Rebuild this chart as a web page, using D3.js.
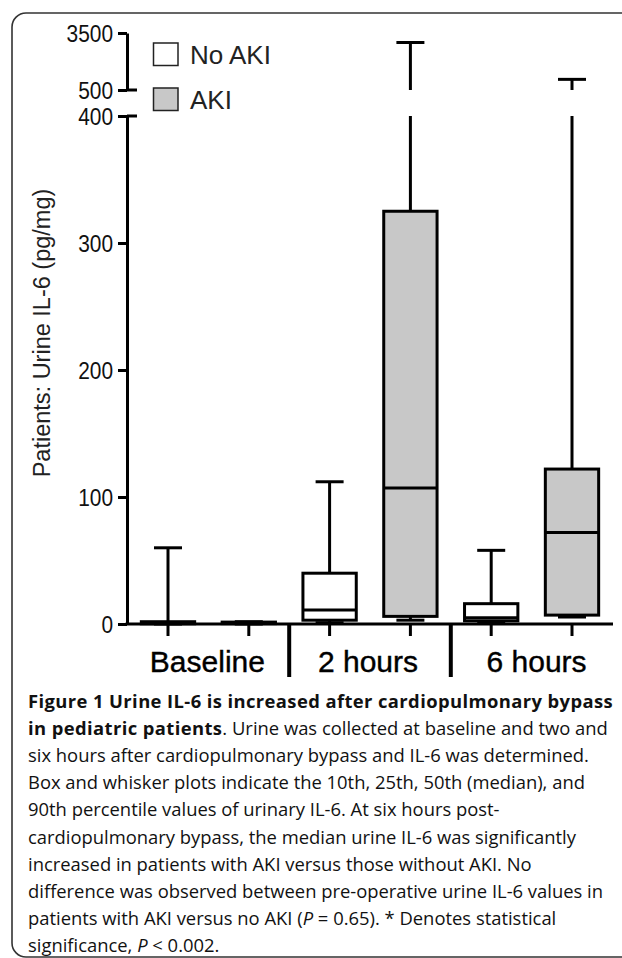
<!DOCTYPE html>
<html><head><meta charset="utf-8">
<script src="https://cdn.jsdelivr.net/npm/d3@7"></script>
<style>body{margin:0;background:#fff}svg{display:block}</style>
</head><body>
<svg id="c" width="622" height="958"></svg>
<script>
// ---- data ----
const groups = ["Baseline", "2 hours", "6 hours"];
const series = ["No AKI", "AKI"];
// [10th, 25th, median, 75th, 90th percentile] per group
const noAKI = [[0, 0.2, 0.8, 1.8, 60], [1, 3, 11, 40, 112], [1, 2.5, 5, 16, 58]];
const aki   = [[0, 0.3, 0.7, 1.5, 1.8], [3, 6, 107, 325, 3000], [5.5, 7, 72, 122, 1060]];
const lowerTicks = [0, 100, 200, 300, 400];
const upperTicks = [500, 3500];
const captionLines = [
  [{t:"Figure 1 Urine IL-6 is increased after cardiopulmonary bypass", b:1}],
  [{t:"in pediatric patients", b:1}, {t:". Urine was collected at baseline and two and"}],
  [{t:"six hours after cardiopulmonary bypass and IL-6 was determined."}],
  [{t:"Box and whisker plots indicate the 10th, 25th, 50th (median), and"}],
  [{t:"90th percentile values of urinary IL-6. At six hours post-"}],
  [{t:"cardiopulmonary bypass, the median urine IL-6 was significantly"}],
  [{t:"increased in patients with AKI versus those without AKI. No"}],
  [{t:"difference was observed between pre-operative urine IL-6 values in"}],
  [{t:"patients with AKI versus no AKI ("}, {t:"P", i:1}, {t:" = 0.65). * Denotes statistical"}],
  [{t:"significance, "}, {t:"P", i:1}, {t:" < 0.002."}]
];

const data = [];
groups.forEach((g, gi) => {
  series.forEach(s => {
    const v = (s === "No AKI" ? noAKI : aki)[gi];
    data.push({g, s, p10:v[0], q1:v[1], med:v[2], q3:v[3], p90:v[4]});
  });
});

const svg = d3.select("#c");
const FONT = "'Liberation Sans', Arial, sans-serif";

// frame
svg.append("rect").attr("x", 12).attr("y", 13).attr("width", 660).attr("height", 944)
  .attr("rx", 14).attr("fill", "none").attr("stroke", "#333").attr("stroke-width", 1.6);

// scales
const yLow = d3.scaleLinear().domain([0, 400]).range([624, 116]);
const yUp = d3.scaleLinear().domain([500, 3500]).range([90, 33]);
const xG = d3.scaleBand().domain(groups).range([127.6, 612.4]);
const xS = d3.scaleBand().domain(series).range([0, xG.bandwidth()]);
const cx = d => xG(d.g) + xS(d.s) + xS.bandwidth() / 2;
const boxW = xS.bandwidth() * 0.66;
const capW = 28;

const axisX = 127;

// y axis lower
const gLow = svg.append("g").attr("transform", `translate(${axisX},0)`)
  .call(d3.axisLeft(yLow).tickValues(lowerTicks).tickSize(9).tickSizeOuter(0).tickPadding(5));
// y axis upper
const gUp = svg.append("g").attr("transform", `translate(${axisX},0)`)
  .call(d3.axisLeft(yUp).tickValues(upperTicks).tickFormat(d3.format("d")).tickSize(9).tickSizeOuter(0).tickPadding(5));
[gLow, gUp].forEach(g => {
  g.select(".domain").attr("stroke", "#000").attr("stroke-width", 3);
  g.selectAll(".tick line").attr("stroke", "#000").attr("stroke-width", 3);
  g.selectAll(".tick text").attr("fill", "#111").attr("font-family", FONT).attr("font-size", 24)
    .attr("x", 0).attr("dy", "0.36em").attr("transform", "translate(-14,0) scale(0.87,1)");
});
// break marks extend to the right at 400 and 500
svg.append("line").attr("x1", axisX).attr("x2", axisX + 10).attr("y1", yLow(400)).attr("y2", yLow(400))
  .attr("stroke", "#000").attr("stroke-width", 3);
svg.append("line").attr("x1", axisX).attr("x2", axisX + 10).attr("y1", yUp(500)).attr("y2", yUp(500))
  .attr("stroke", "#000").attr("stroke-width", 3);

// x axis
const x0 = axisX, x1 = 613;
svg.append("line").attr("x1", x0 - 1.5).attr("x2", x1).attr("y1", yLow(0)).attr("y2", yLow(0))
  .attr("stroke", "#000").attr("stroke-width", 3);
// category ticks
svg.selectAll(".xtick").data(data).join("line").attr("class", "xtick")
  .attr("x1", cx).attr("x2", cx).attr("y1", yLow(0)).attr("y2", yLow(0) + 12)
  .attr("stroke", "#000").attr("stroke-width", 3);
// group separators
svg.selectAll(".sep").data(groups.slice(1)).join("line").attr("class", "sep")
  .attr("x1", d => xG(d)).attr("x2", d => xG(d)).attr("y1", yLow(0)).attr("y2", yLow(0) + 53)
  .attr("stroke", "#000").attr("stroke-width", 4);
// group labels
svg.selectAll(".glab").data(groups).join("text").attr("class", "glab")
  .attr("x", (d, i) => xG(d) + xG.bandwidth() / 2 + [-1, -2, 5][i]).attr("y", 672)
  .attr("text-anchor", "middle").attr("font-family", FONT).attr("font-size", 30).attr("fill", "#000")
  .attr("stroke", "#000").attr("stroke-width", 0.4)
  .text(d => d);

// y label
svg.append("text").attr("transform", "translate(50,333) rotate(-90)")
  .attr("text-anchor", "middle").attr("font-family", FONT).attr("font-size", 23.5).attr("fill", "#222")
  .text("Patients: Urine IL-6 (pg/mg)");

// whiskers
const wk = svg.append("g").attr("stroke", "#000").attr("stroke-width", 3).attr("fill", "none");
data.forEach(d => {
  const x = cx(d);
  if (d.p90 > 400) {
    wk.append("line").attr("x1", x).attr("x2", x).attr("y1", yLow(d.q3)).attr("y2", yLow(400));
    wk.append("line").attr("x1", x).attr("x2", x).attr("y1", yUp(500)).attr("y2", yUp(d.p90));
    wk.append("line").attr("x1", x - capW / 2).attr("x2", x + capW / 2).attr("y1", yUp(d.p90)).attr("y2", yUp(d.p90));
  } else {
    wk.append("line").attr("x1", x).attr("x2", x).attr("y1", yLow(d.q3)).attr("y2", yLow(d.p90));
    wk.append("line").attr("x1", x - capW / 2).attr("x2", x + capW / 2).attr("y1", yLow(d.p90)).attr("y2", yLow(d.p90));
  }
  wk.append("line").attr("x1", x).attr("x2", x).attr("y1", yLow(d.q1)).attr("y2", yLow(d.p10));
  wk.append("line").attr("x1", x - capW / 2).attr("x2", x + capW / 2).attr("y1", yLow(d.p10)).attr("y2", yLow(d.p10));
});

// boxes
svg.selectAll(".box").data(data).join("rect").attr("class", "box")
  .attr("x", d => cx(d) - boxW / 2).attr("width", boxW)
  .attr("y", d => yLow(d.q3)).attr("height", d => yLow(d.q1) - yLow(d.q3))
  .attr("fill", d => d.s === "AKI" ? "#c8c8c8" : "#fff")
  .attr("stroke", "#000").attr("stroke-width", 3);
svg.selectAll(".med").data(data).join("line").attr("class", "med")
  .attr("x1", d => cx(d) - boxW / 2).attr("x2", d => cx(d) + boxW / 2)
  .attr("y1", d => yLow(d.med)).attr("y2", d => yLow(d.med))
  .attr("stroke", "#000").attr("stroke-width", 3);

// legend
const leg = svg.append("g");
const legY = [43, 88];
series.forEach((s, i) => {
  leg.append("rect").attr("x", 153.5).attr("y", legY[i]).attr("width", 24.5).attr("height", 22.5)
    .attr("fill", s === "AKI" ? "#c8c8c8" : "#fff").attr("stroke", "#222").attr("stroke-width", 1.5);
  leg.append("text").attr("x", 190).attr("y", legY[i] + 20.5).attr("font-family", FONT)
    .attr("font-size", 26).attr("fill", "#222").text(s);
});

// caption
const cap = svg.append("g").attr("font-family", "'Open Sans', sans-serif").attr("font-size", 18.4).attr("fill", "#111");
captionLines.forEach((line, i) => {
  const t = cap.append("text").attr("x", 28).attr("y", 708 + i * 27.1);
  line.forEach(seg => {
    t.append("tspan").attr("font-weight", seg.b ? 700 : 400)
      .attr("letter-spacing", seg.b ? 0.4 : 0)
      .attr("font-style", seg.i ? "italic" : "normal").text(seg.t);
  });
});
</script>
</body></html>
